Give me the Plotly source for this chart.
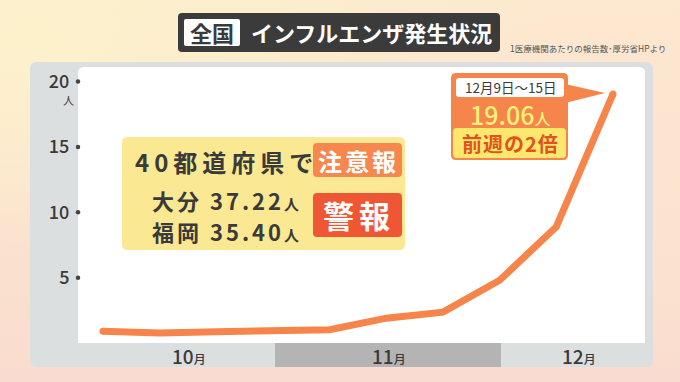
import base64
import plotly.graph_objects as go

# ---------------- data ----------------
weeks = ["10/7-13", "10/14-20", "10/21-27", "10/28-11/3", "11/4-10",
         "11/11-17", "11/18-24", "11/25-12/1", "12/2-8", "12/9-15"]
patients = [0.89, 0.77, 0.86, 1.0, 1.02, 1.9, 2.36, 4.8, 8.9, 19.06]
y_ticks = [5, 10, 15, 20]
y_tick_labels = ["5", "10", "15", "20"]
months = ["10", "11", "12"]
pref_names = ["大分", "福岡"]
pref_values = ["37.22", "35.40"]

# ---------------- geometry helpers (pixels -> paper) ----------------
WIDTH, HEIGHT = 680, 382
L, R, T, B = 78, 645, 67, 343
PW, PH = R - L, B - T


def px(x):
    return (x - L) / PW


def py(y):
    return (B - y) / PH


def rr(x0, y0, x1, y1, r):
    def P(x, y):
        return f"{px(x):.5f},{py(y):.5f}"
    return (f"M {P(x0 + r, y0)} L {P(x1 - r, y0)} Q {P(x1, y0)} {P(x1, y0 + r)} "
            f"L {P(x1, y1 - r)} Q {P(x1, y1)} {P(x1 - r, y1)} L {P(x0 + r, y1)} "
            f"Q {P(x0, y1)} {P(x0, y1 - r)} L {P(x0, y0 + r)} Q {P(x0, y0)} {P(x0 + r, y0)} Z")


FONT = "Noto Sans CJK JP"
DARK = "#3a3a3a"
ORANGE = "#f6854b"


def ls(text, spacing):
    return f"<span style='letter-spacing:{spacing}px'>{text}</span>"


fig = go.Figure()
fig.add_trace(go.Scatter(
    x=list(range(len(weeks))), y=patients, mode="lines",
    line=dict(color=ORANGE, width=7), hoverinfo="skip", showlegend=False,
    text=weeks))
# round caps at line ends
fig.add_trace(go.Scatter(
    x=[0, len(weeks) - 1], y=[patients[0], patients[-1]], mode="markers",
    marker=dict(color=ORANGE, size=7), hoverinfo="skip", showlegend=False,
    cliponaxis=False))

x_min = -(103 - L) / 56.67
x_max = (R - 103) / 56.67
y_max = (B - T) / 13.07

# tick dots
fig.add_trace(go.Scatter(
    x=[x_min] * len(y_ticks), y=y_ticks, mode="markers",
    marker=dict(color="#444444", size=4.5), cliponaxis=False,
    hoverinfo="skip", showlegend=False))

shapes = []


def add_rr(x0, y0, x1, y1, r, fill, layer="below"):
    shapes.append(dict(type="path", path=rr(x0, y0, x1, y1, r), xref="paper",
                       yref="paper", fillcolor=fill, line=dict(width=0), layer=layer))


# panels
add_rr(30, 62, 653, 367, 7, "#dcdfdf")
add_rr(L, T, R, B + 6, 6, "#ffffff")
shapes.append(dict(type="rect", xref="paper", yref="paper", x0=px(L), x1=px(R),
                   y0=py(B + 6), y1=py(B), fillcolor="#dcdfdf", line=dict(width=0),
                   layer="below"))
shapes.append(dict(type="rect", xref="paper", yref="paper", x0=px(275), x1=px(501),
                   y0=py(367), y1=py(343), fillcolor="#b4b4b4", line=dict(width=0),
                   layer="below"))
# title
add_rr(178, 13, 500, 52, 4, "#3b3b3b")
add_rr(184, 19, 240, 46, 2, "#ffffff")
# info box
add_rr(122, 137, 405, 250, 6, "#fbe892")
add_rr(313, 143, 402, 177, 4, "#f6874f")
add_rr(313, 193, 402, 237, 4, "#ef5634")
# callout
add_rr(451, 73, 568, 160, 5, ORANGE, "above")
add_rr(453, 128, 566, 158, 4, "#fde86d", "above")
add_rr(456, 78, 564, 97, 3, "#ffffff", "above")
shapes.append(dict(type="path", xref="paper", yref="paper",
                   path=f"M {px(565):.5f},{py(84):.5f} L {px(605):.5f},{py(93):.5f} "
                        f"L {px(565):.5f},{py(103):.5f} Z",
                   fillcolor=ORANGE, line=dict(width=0), layer="above"))

annotations = []


def ann(text, x, y, size, color, xanchor="center", weight="bold"):
    annotations.append(dict(text=text, x=px(x), y=py(y), xref="paper", yref="paper",
                            showarrow=False, xanchor=xanchor, yanchor="middle",
                            font=dict(family=FONT, size=size, color=color, weight=weight)))


ann("人", 68, 100, 11, DARK, weight="normal")
month_x = [189, 389, 579]
for m, mx in zip(months, month_x):
    ann(f"{m}<span style='font-size:12px'>月</span>", mx, 355, 19, DARK, weight=500)

ann("全国", 212, 32, 22, DARK)
ann("インフルエンザ発生状況", 371, 32, 22, "#ffffff")
ann("1医療機関あたりの報告数･厚労省HPより", 508, 48, 8.5, "#555555", "left", "normal")

ann(ls("40都道府県で", 5), 133, 161, 24, DARK, "left")
ann(ls("注意報", 3), 358, 160, 24, "#ffffff")
for i, (n, v) in enumerate(zip(pref_names, pref_values)):
    ann(ls(f"{n} {v}", 3) + "<span style='font-size:15px'>人</span>",
        150, 200 + 31 * i, 22, DARK, "left")
ann(ls("警報", 5), 359, 215, 31, "#ffffff")

ann("12月9日～15日", 510, 87, 13.5, DARK, weight="normal")
ann(f"{patients[-1]:.2f}<span style='font-size:16px'>人</span>", 510, 114, 25, "#fff27a", weight=500)
ann(ls("前週の2倍", 1), 510, 143, 20, "#e0521f")

# background gradient image
svg = f"""<svg xmlns='http://www.w3.org/2000/svg' width='{WIDTH}' height='{HEIGHT}'>
<defs>
<linearGradient id='g' x1='0' y1='0' x2='0' y2='1'>
<stop offset='0' stop-color='#fcecce'/><stop offset='1' stop-color='#f9dccf'/></linearGradient>
<radialGradient id='r' cx='1' cy='0.35' r='0.6'>
<stop offset='0' stop-color='#fde4d0' stop-opacity='1'/><stop offset='1' stop-color='#fde4d0' stop-opacity='0'/></radialGradient>
<radialGradient id='t' cx='0.05' cy='0.1' r='0.55'>
<stop offset='0' stop-color='#fdf1cc' stop-opacity='1'/><stop offset='1' stop-color='#fdf1cc' stop-opacity='0'/></radialGradient>
</defs>
<rect width='{WIDTH}' height='{HEIGHT}' fill='url(#g)'/>
<rect width='{WIDTH}' height='{HEIGHT}' fill='url(#r)'/>
<rect width='{WIDTH}' height='{HEIGHT}' fill='url(#t)'/>
</svg>"""
src = "data:image/svg+xml;base64," + base64.b64encode(svg.encode()).decode()

fig.update_layout(
    width=WIDTH, height=HEIGHT,
    margin=dict(l=L, r=WIDTH - R, t=T, b=HEIGHT - B),
    paper_bgcolor="#fbe4d0", plot_bgcolor="rgba(0,0,0,0)",
    shapes=shapes, annotations=annotations,
    images=[dict(source=src, xref="paper", yref="paper", x=px(0), y=py(0),
                 sizex=WIDTH / PW, sizey=HEIGHT / PH, sizing="stretch",
                 xanchor="left", yanchor="top", layer="below")],
    xaxis=dict(range=[x_min, x_max], showgrid=False, zeroline=False,
               showticklabels=False, showline=False, fixedrange=True),
    yaxis=dict(range=[0, y_max], showgrid=False, zeroline=False, showline=False,
               tickvals=y_ticks, ticktext=y_tick_labels, ticks="outside",
               ticklen=4, tickcolor="rgba(0,0,0,0)", fixedrange=True,
               tickfont=dict(family=FONT, size=18, color=DARK, weight=500)),
    showlegend=False,
)

fig.write_html("out.html", config={"displayModeBar": False},
               post_script="document.body.style.margin='0';document.body.style.overflow='hidden';")
